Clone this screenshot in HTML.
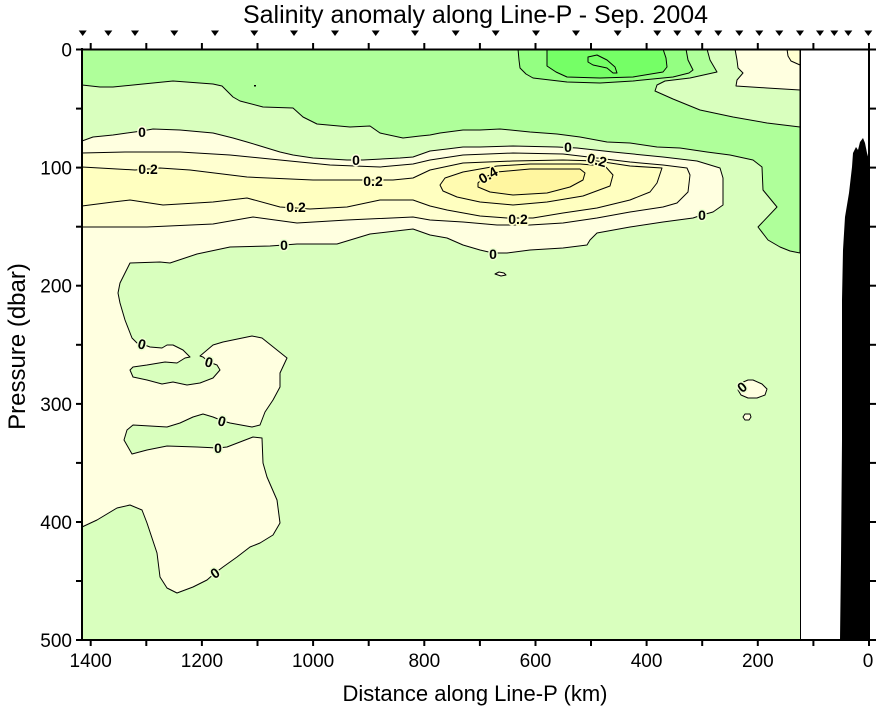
<!DOCTYPE html>
<html>
<head>
<meta charset="utf-8">
<style>
html,body{margin:0;padding:0;background:#fff;}
svg{display:block;}
text{font-family:"Liberation Sans",Arial,sans-serif;}
.lb{font-size:14px;font-weight:bold;text-anchor:middle;paint-order:stroke;stroke-width:3px;stroke-linejoin:round;}
</style>
</head>
<body>
<svg width="878" height="708" viewBox="0 0 878 708" xmlns="http://www.w3.org/2000/svg">
<rect x="0" y="0" width="878" height="708" fill="#ffffff"/>

<!-- base: -0.1..0 light green -->
<rect x="82" y="49" width="718" height="591" fill="#D9FFBE"/>

<g stroke="#000" stroke-width="1" stroke-linejoin="round">
<!-- -0.2..-0.1 medium green (top) -->
<path fill="#AFFF9A" d="M82,49 L82,85 L100,87 L113,87 L143,84 L173,81 L213,84 L222,86 L233,97 L240,101 L263,107 L293,108 L303,117 L317,124 L350,127 L370,126 L380,133 L403,138 L420,136 L430,135 L440,133 L463,130 L480,130 L500,129 L530,132 L557,134 L580,137 L607,142 L630,143 L657,147 L680,148 L707,152 L730,155 L753,160 L762,167 L763,190 L777,207 L758,227 L768,240 L780,247 L790,251 L800,253 L800,49 Z"/>
<!-- light green pocket upper right -->
<path fill="#D9FFBE" d="M707,49 L710,60 L717,72 L690,78 L665,81 L657,85 L655,91 L673,99 L700,110 L733,117 L767,123 L800,127 L800,49 Z"/>
<!-- cream pocket upper right -->
<path fill="#FFFFE0" d="M735,49 L737,60 L738,68 L743,73 L737,80 L736,86 L767,88 L800,90 L800,49 Z"/>
<path fill="#FFFFD0" d="M787,49 L788,56 L791,61 L800,65 L800,49 Z"/>
<!-- -0.3..-0.2 -->
<path fill="#94FF82" d="M518,49 L519,60 L520,68 L526,74 L533,78 L567,82 L600,83 L633,81 L673,77 L689,73 L693,70 L688,60 L686,49 Z"/>
<!-- < -0.3 -->
<path fill="#75FF66" d="M547,49 L547,58 L547,66 L556,72 L567,77 L600,78 L633,77 L663,72 L667,67 L666,58 L663,49 Z"/>
<path fill="none" d="M588,57 L597,55 L607,60 L615,67 L617,73 L613,73 L607,68 L593,65 L588,62 Z"/>

<!-- 0..0.1 cream main region -->
<path fill="#FFFFE0" d="M82,141 L93,137 L113,135 L127,133 L142,131 L153,129 L180,130 L213,133 L233,138 L247,142 L257,145 L280,152 L293,155 L313,158 L347,160 L363,160 L400,158 L413,157 L430,151 L447,149 L463,147 L480,147 L513,146 L557,147 L577,148 L613,152 L663,157 L697,161 L720,168 L723,178 L723,205 L713,212 L702,215 L693,218 L663,222 L630,227 L597,233 L590,240 L587,245 L563,248 L530,250 L507,253 L493,253 L480,250 L463,245 L447,238 L430,235 L413,229 L370,234 L337,244 L297,244 L284,245 L270,246 L230,247 L197,254 L170,263 L160,262 L130,263 L120,283 L118,293 L120,303 L125,320 L132,338 L137,343 L142,344 L150,347 L162,348 L167,345 L173,345 L183,350 L190,357 L185,358 L177,363 L165,362 L147,365 L133,367 L130,370 L133,377 L147,380 L162,384 L173,382 L187,385 L200,383 L213,378 L220,370 L217,365 L209,362 L203,357 L200,356 L213,345 L223,342 L252,336 L262,338 L277,350 L287,358 L280,373 L280,387 L273,400 L265,412 L260,425 L252,427 L230,423 L223,421 L213,417 L203,414 L193,417 L180,423 L167,427 L133,425 L127,430 L124,440 L132,454 L147,450 L167,446 L197,447 L218,448 L227,447 L240,442 L253,437 L262,438 L263,463 L267,477 L277,500 L280,523 L273,535 L260,543 L250,547 L237,557 L223,567 L215,573 L207,580 L193,587 L177,593 L167,588 L160,577 L157,553 L147,523 L142,510 L130,505 L117,508 L97,520 L82,527 Z"/>

<!-- 0.1..0.2 -->
<path fill="#FFFFD0" d="M82,153 L125,152 L180,152 L230,155 L280,160 L330,165 L380,167 L413,164 L430,160 L463,155 L513,153 L563,154 L597,158 L630,162 L663,165 L687,168 L690,175 L688,192 L677,203 L663,207 L630,212 L597,218 L563,223 L530,225 L497,225 L463,222 L430,220 L413,217 L347,220 L297,223 L253,217 L213,224 L147,227 L82,227 Z"/>
<!-- 0.2..0.3 -->
<path fill="#FFFFC0" d="M82,167 L135,170 L160,168 L190,170 L247,177 L313,180 L353,180 L393,180 L413,178 L430,170 L463,163 L513,161 L563,160 L597,161 L630,166 L662,168 L657,183 L650,192 L630,200 L597,208 L563,213 L533,218 L507,218 L480,216 L447,210 L430,206 L413,200 L380,200 L347,207 L310,209 L280,207 L247,198 L213,202 L163,205 L130,200 L113,202 L82,206 Z"/>
<!-- 0.3..0.4 -->
<path fill="#FFFBB0" d="M440,185 L445,178 L463,172 L497,166 L530,164 L580,164 L605,166 L613,175 L610,186 L583,196 L547,202 L513,205 L480,202 L457,197 L443,191 Z"/>
<!-- >0.4 -->
<path fill="#FFF6A0" d="M478,183 L483,178 L497,172 L530,169 L580,169 L585,173 L583,180 L570,187 L547,193 L513,195 L490,192 L478,187 Z"/>

<!-- small features -->
<path fill="#FFFFE0" d="M495,274 L499,272 L504,273 L506,275 L501,276 Z"/>
<path fill="#FFFFE0" d="M741,383 L748,380 L753,380 L762,384 L767,389 L765,395 L757,398 L748,398 L741,395 L738,390 Z"/>
<path fill="#FFFFE0" d="M743,417 L745,414 L750,414 L751,417 L749,420 L745,420 Z"/>
</g>
<rect x="254" y="85" width="2" height="1.5" fill="#000"/>

<!-- contour labels -->
<g>
<text class="lb" x="142" y="137" stroke="#FFFFE0">0</text>
<text class="lb" x="148" y="174" stroke="#FFFFC8">0.2</text>
<text class="lb" x="356" y="165" stroke="#FFFFE0">0</text>
<text class="lb" x="373" y="186" stroke="#FFFFC8">0.2</text>
<text class="lb" x="296" y="212" stroke="#FFFFC8">0.2</text>
<text class="lb" x="284" y="250" stroke="#ECFFD0">0</text>
<text class="lb" x="568" y="152" stroke="#ECFFD0">0</text>
<text class="lb" x="597" y="165" stroke="#FFFFC8" transform="rotate(15 597 160)">0.2</text>
<text class="lb" x="488" y="180" stroke="#FFFBB0" transform="rotate(-30 488 175)">0.4</text>
<text class="lb" x="518" y="224" stroke="#FFFFC8">0.2</text>
<text class="lb" x="493" y="259" stroke="#ECFFD0">0</text>
<text class="lb" x="702" y="220" stroke="#ECFFD0">0</text>
<text class="lb" x="142" y="349" stroke="#ECFFD0" transform="rotate(15 142 344)">0</text>
<text class="lb" x="209" y="367" stroke="#ECFFD0" transform="rotate(15 209 362)">0</text>
<text class="lb" x="222" y="426" stroke="#ECFFD0" transform="rotate(15 222 421)">0</text>
<text class="lb" x="218" y="453" stroke="#ECFFD0">0</text>
<text class="lb" x="215" y="578" stroke="#ECFFD0" transform="rotate(-35 215 573)">0</text>
<text class="lb" x="742" y="392" stroke="#ECFFD0" transform="rotate(-40 742 387)">0</text>
</g>

<!-- data boundary line -->
<line x1="800.5" y1="49" x2="800.5" y2="640" stroke="#000" stroke-width="1"/>
<!-- white area between data and shelf -->
<rect x="801" y="51" width="67" height="588" fill="#ffffff"/>

<!-- bathymetry -->
<path fill="#000" d="M869,640 L840,640 L841,560 L842,440 L842,300 L843,250 L845,217 L849,193 L852,167 L853,153 L856,147 L858,150 L860,142 L863,138 L865,143 L867,153 L869,160 Z"/>

<!-- axes frame -->
<g stroke="#000" stroke-width="2" fill="none">
<line x1="82" y1="48" x2="82" y2="641"/>
<line x1="81" y1="640" x2="870" y2="640"/>
<line x1="81" y1="49.5" x2="870" y2="49.5"/>
<line x1="869" y1="48" x2="869" y2="641"/>
</g>

<!-- ticks -->
<g stroke="#000" stroke-width="2">
<!-- bottom & top every 100 km: x = 869 - d*0.5559 -->
<line x1="869" y1="640" x2="869" y2="646"/><line x1="869" y1="43" x2="869" y2="49"/>
<line x1="813.4" y1="640" x2="813.4" y2="646"/><line x1="813.4" y1="43" x2="813.4" y2="49"/>
<line x1="757.8" y1="640" x2="757.8" y2="646"/><line x1="757.8" y1="43" x2="757.8" y2="49"/>
<line x1="702.2" y1="640" x2="702.2" y2="646"/><line x1="702.2" y1="43" x2="702.2" y2="49"/>
<line x1="646.6" y1="640" x2="646.6" y2="646"/><line x1="646.6" y1="43" x2="646.6" y2="49"/>
<line x1="591" y1="640" x2="591" y2="646"/><line x1="591" y1="43" x2="591" y2="49"/>
<line x1="535.5" y1="640" x2="535.5" y2="646"/><line x1="535.5" y1="43" x2="535.5" y2="49"/>
<line x1="479.9" y1="640" x2="479.9" y2="646"/><line x1="479.9" y1="43" x2="479.9" y2="49"/>
<line x1="424.3" y1="640" x2="424.3" y2="646"/><line x1="424.3" y1="43" x2="424.3" y2="49"/>
<line x1="368.7" y1="640" x2="368.7" y2="646"/><line x1="368.7" y1="43" x2="368.7" y2="49"/>
<line x1="313.1" y1="640" x2="313.1" y2="646"/><line x1="313.1" y1="43" x2="313.1" y2="49"/>
<line x1="257.5" y1="640" x2="257.5" y2="646"/><line x1="257.5" y1="43" x2="257.5" y2="49"/>
<line x1="201.9" y1="640" x2="201.9" y2="646"/><line x1="201.9" y1="43" x2="201.9" y2="49"/>
<line x1="146.3" y1="640" x2="146.3" y2="646"/><line x1="146.3" y1="43" x2="146.3" y2="49"/>
<line x1="90.7" y1="640" x2="90.7" y2="646"/><line x1="90.7" y1="43" x2="90.7" y2="49"/>
<!-- left & right every 50 dbar: y = 49.5 + p*1.181 -->
<line x1="76" y1="49.5" x2="82" y2="49.5"/><line x1="869" y1="49.5" x2="876" y2="49.5"/>
<line x1="76" y1="108.6" x2="82" y2="108.6"/><line x1="869" y1="108.6" x2="876" y2="108.6"/>
<line x1="76" y1="167.6" x2="82" y2="167.6"/><line x1="869" y1="167.6" x2="876" y2="167.6"/>
<line x1="76" y1="226.7" x2="82" y2="226.7"/><line x1="869" y1="226.7" x2="876" y2="226.7"/>
<line x1="76" y1="285.7" x2="82" y2="285.7"/><line x1="869" y1="285.7" x2="876" y2="285.7"/>
<line x1="76" y1="344.8" x2="82" y2="344.8"/><line x1="869" y1="344.8" x2="876" y2="344.8"/>
<line x1="76" y1="403.9" x2="82" y2="403.9"/><line x1="869" y1="403.9" x2="876" y2="403.9"/>
<line x1="76" y1="462.9" x2="82" y2="462.9"/><line x1="869" y1="462.9" x2="876" y2="462.9"/>
<line x1="76" y1="522" x2="82" y2="522"/><line x1="869" y1="522" x2="876" y2="522"/>
<line x1="76" y1="581" x2="82" y2="581"/><line x1="869" y1="581" x2="876" y2="581"/>
<line x1="76" y1="640" x2="82" y2="640"/><line x1="869" y1="640" x2="876" y2="640"/>
</g>

<!-- station markers -->
<g fill="#000">
<path d="M78.7,30.5 L86.7,30.5 L82.7,36 Z"/>
<path d="M104.3,30.5 L112.3,30.5 L108.3,36 Z"/>
<path d="M131,30.5 L139,30.5 L135,36 Z"/>
<path d="M170.3,30.5 L178.3,30.5 L174.3,36 Z"/>
<path d="M211,30.5 L219,30.5 L215,36 Z"/>
<path d="M250.3,30.5 L258.3,30.5 L254.3,36 Z"/>
<path d="M290,30.5 L298,30.5 L294,36 Z"/>
<path d="M331,30.5 L339,30.5 L335,36 Z"/>
<path d="M371.7,30.5 L379.7,30.5 L375.7,36 Z"/>
<path d="M411,30.5 L419,30.5 L415,36 Z"/>
<path d="M451.7,30.5 L459.7,30.5 L455.7,36 Z"/>
<path d="M491.7,30.5 L499.7,30.5 L495.7,36 Z"/>
<path d="M532,30.5 L540,30.5 L536,36 Z"/>
<path d="M572,30.5 L580,30.5 L576,36 Z"/>
<path d="M613.7,30.5 L621.7,30.5 L617.7,36 Z"/>
<path d="M653.3,30.5 L661.3,30.5 L657.3,36 Z"/>
<path d="M673.3,30.5 L681.3,30.5 L677.3,36 Z"/>
<path d="M694.3,30.5 L702.3,30.5 L698.3,36 Z"/>
<path d="M714.3,30.5 L722.3,30.5 L718.3,36 Z"/>
<path d="M735.3,30.5 L743.3,30.5 L739.3,36 Z"/>
<path d="M755.3,30.5 L763.3,30.5 L759.3,36 Z"/>
<path d="M775.3,30.5 L783.3,30.5 L779.3,36 Z"/>
<path d="M796,30.5 L804,30.5 L800,36 Z"/>
<path d="M816,30.5 L824,30.5 L820,36 Z"/>
<path d="M830.3,30.5 L838.3,30.5 L834.3,36 Z"/>
<path d="M844.3,30.5 L852.3,30.5 L848.3,36 Z"/>
<path d="M864.3,30.5 L872.3,30.5 L868.3,36 Z"/>
</g>

<!-- tick labels -->
<g font-size="19" fill="#000" text-anchor="middle">
<text x="90.7" y="667">1400</text>
<text x="201.9" y="667">1200</text>
<text x="313.1" y="667">1000</text>
<text x="424.3" y="667">800</text>
<text x="535.5" y="667">600</text>
<text x="646.6" y="667">400</text>
<text x="757.8" y="667">200</text>
<text x="868" y="667">0</text>
</g>
<g font-size="19" fill="#000" text-anchor="end">
<text x="72" y="56.5">0</text>
<text x="72" y="174.6">100</text>
<text x="72" y="292.7">200</text>
<text x="72" y="410.9">300</text>
<text x="72" y="529">400</text>
<text x="72" y="647">500</text>
</g>

<!-- titles -->
<text x="475.5" y="23" font-size="25" text-anchor="middle" fill="#000">Salinity anomaly along Line-P - Sep. 2004</text>
<text x="475" y="701" font-size="22" text-anchor="middle" fill="#000">Distance along Line-P (km)</text>
<text x="0" y="0" font-size="24" text-anchor="middle" fill="#000" transform="translate(25 346.5) rotate(-90)">Pressure (dbar)</text>
</svg>
</body>
</html>
